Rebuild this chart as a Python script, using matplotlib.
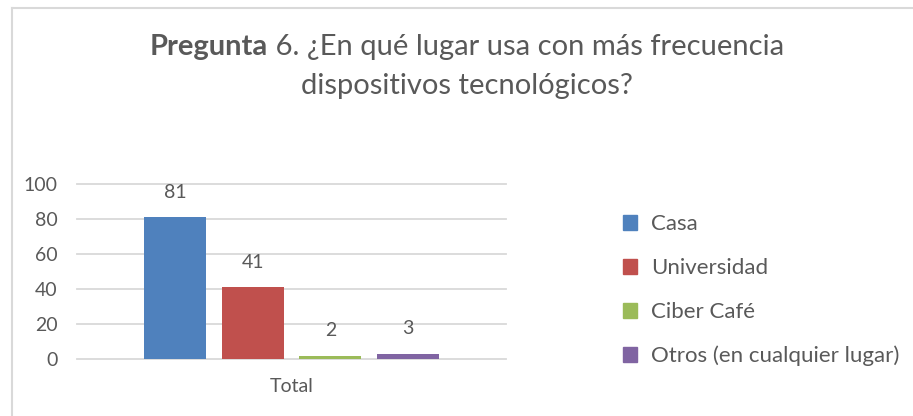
import matplotlib
matplotlib.use("Agg")
import matplotlib.pyplot as plt
from matplotlib.lines import Line2D

# data
categories = ["Casa", "Universidad", "Ciber Café", "Otros (en cualquier lugar)"]
values = [81, 41, 2, 3]
colors = ["#4F81BD", "#C0504D", "#9BBB59", "#8064A2"]
yticks = [0, 20, 40, 60, 80, 100]
group_label = "Total"

TXT = "#595959"
GRID = "#D9D9D9"
plt.rcParams['font.family'] = ['Lato', 'DejaVu Sans']

W, H = 913, 416
fig = plt.figure(figsize=(W / 100, H / 100), dpi=100)

# chart frame (only left/top edges visible in the crop)
fig.add_artist(Line2D([12 / W, 12 / W], [0, 1 - 7.5 / H], color=GRID, lw=1.5,
                      transform=fig.transFigure))
fig.add_artist(Line2D([12 / W, 1], [1 - 7.5 / H, 1 - 7.5 / H], color=GRID, lw=1.5,
                      transform=fig.transFigure))

ax = fig.add_axes([77 / W, 1 - 359 / H, 429 / W, 175 / H])
x = list(range(len(values)))
bars = ax.bar(x, values, width=0.8, color=colors, zorder=3)
for xi, v in zip(x, values):
    ax.annotate(str(v), (xi, v), xytext=(0, 18), textcoords='offset points',
                ha='center', va='center', fontsize=14, color=TXT)

ax.set_ylim(0, 100)
ax.set_xlim(1.5 - 2.76, 1.5 + 2.76)
ax.set_yticks(yticks)
ax.set_xticks([1.5])
ax.set_xticklabels([group_label])
ax.tick_params(axis='both', length=0, labelsize=14, labelcolor=TXT)
ax.tick_params(axis='y', pad=14)
ax.tick_params(axis='x', pad=14)
for s in ax.spines.values():
    s.set_visible(False)
ax.yaxis.grid(True, color=GRID, lw=1.3, zorder=0)
for gl in ax.get_ygridlines():
    gl.set_clip_on(False)
ax.set_axisbelow(True)

# legend
handles = [plt.Rectangle((0, 0), 1, 1, color=c) for c in colors]
fig.legend(handles, categories, loc='upper left', bbox_to_anchor=(614 / W, 1 - 205 / H),
           frameon=False, fontsize=16, labelcolor=TXT, handlelength=0.65,
           handleheight=0.65, handletextpad=0.6, labelspacing=1.08, borderaxespad=0)

# title: bold "Pregunta" + regular rest, line 1 centered
r = fig.canvas.get_renderer()
TS = 21
t1 = fig.text(0, 1 - 47 / H, "Pregunta", fontsize=TS, fontweight='bold', color=TXT,
              va='center', ha='left')
rest = " 6. ¿En qué lugar usa con más frecuencia"
t2 = fig.text(0, 1 - 47 / H, rest, fontsize=TS, color=TXT, va='center', ha='left')
w1 = t1.get_window_extent(r).width
w2 = t2.get_window_extent(r).width
start = (467 - (w1 + w2) / 2) / W
t1.set_x(start)
t2.set_x(start + w1 / W)
fig.text(467 / W, 1 - 86 / H, "dispositivos tecnológicos?", fontsize=TS, color=TXT,
         va='center', ha='center')

fig.savefig("out.png", dpi=100)
